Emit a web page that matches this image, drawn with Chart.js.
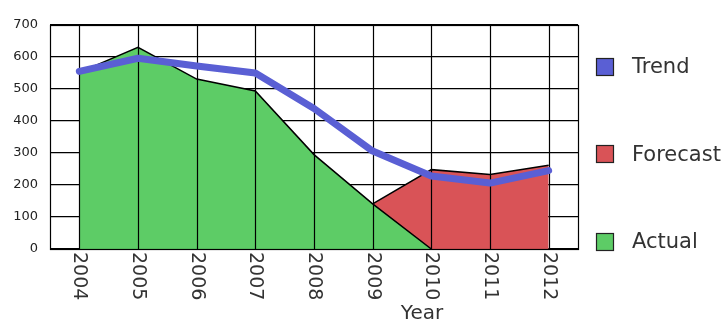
<!DOCTYPE html>
<html>
<head>
<meta charset="utf-8">
<script src="https://cdn.jsdelivr.net/npm/chart.js@4/dist/chart.umd.min.js"></script>
<style>
  html, body { margin: 0; padding: 0; background: #fff; }
  #wrap { width: 727px; height: 322px; }
</style>
</head>
<body>
<div id="wrap"><canvas id="c" width="727" height="322"></canvas></div>
<script>
// Yearly values
const years = ['2004', '2005', '2006', '2007', '2008', '2009', '2010', '2011', '2012'];
const actual = [552, 630, 531, 494, 295, 141, 0, null, null];
const forecast = [null, null, null, null, null, 141, 248, 233, 262];
const trend = [555, 596, 572, 550, 439, 306, 228, 206, 245];
const seriesNames = ['Trend', 'Forecast', 'Actual'];
const axisTitle = 'Year';

const COLORS = { Trend: '#5a5fd4', Forecast: '#d95357', Actual: '#5dcc66' };
const FONT = '"DejaVu Sans", Verdana, sans-serif';

// Vertical grid lines and frame sit above the filled areas but below the trend line;
// rotated year labels, axis title and legend are painted by hand.
const decor = {
  id: 'decor',
  beforeDatasetDraw(chart, args) {
    if (args.index !== 0) return;
    const ctx = chart.ctx, ca = chart.chartArea, xs = chart.scales.x;
    ctx.save();
    ctx.strokeStyle = '#000';
    ctx.lineWidth = 1.2;
    ctx.beginPath();
    years.forEach((_, i) => {
      const x = Math.round(xs.getPixelForTick(i)) + 0.5;
      ctx.moveTo(x, ca.top);
      ctx.lineTo(x, ca.bottom);
    });
    ctx.stroke();
    ctx.strokeRect(Math.round(ca.left) + 0.5, Math.round(ca.top) + 0.5,
                   Math.round(ca.right - ca.left), Math.round(ca.bottom - ca.top));
    ctx.restore();
  },
  afterDraw(chart) {
    const ctx = chart.ctx, ca = chart.chartArea, xs = chart.scales.x;
    ctx.save();
    // year labels, reading downwards
    ctx.fillStyle = '#333';
    ctx.font = '19px ' + FONT;
    ctx.textAlign = 'left';
    ctx.textBaseline = 'middle';
    years.forEach((y, i) => {
      ctx.save();
      ctx.translate(xs.getPixelForTick(i), ca.bottom + 3);
      ctx.rotate(Math.PI / 2);
      ctx.fillText(y, 0, 0);
      ctx.restore();
    });
    // axis title
    ctx.font = '20px ' + FONT;
    ctx.textAlign = 'center';
    ctx.textBaseline = 'alphabetic';
    ctx.fillText(axisTitle, 422, 319);
    // legend
    ctx.font = '21px ' + FONT;
    ctx.textAlign = 'left';
    ctx.textBaseline = 'middle';
    seriesNames.forEach((name, i) => {
      const cy = ca.top + 42 + i * 87.3;
      const bx = ca.right + 18;
      ctx.fillStyle = COLORS[name];
      ctx.fillRect(bx, Math.round(cy - 9), 18, 18);
      ctx.strokeStyle = '#222';
      ctx.lineWidth = 1.2;
      ctx.strokeRect(bx + 0.5, Math.round(cy - 9) + 0.5, 17, 17);
      ctx.fillStyle = '#333';
      ctx.fillText(name, ca.right + 54, cy + 1);
    });
    ctx.restore();
  }
};

new Chart(document.getElementById('c'), {
  type: 'line',
  data: {
    labels: years,
    datasets: [
      {
        label: 'Trend', data: trend, borderColor: COLORS.Trend, borderWidth: 7,
        pointRadius: 0, fill: false, tension: 0, borderJoinStyle: 'round', borderCapStyle: 'round'
      },
      {
        label: 'Actual', data: actual, borderColor: '#000', borderWidth: 1.5,
        backgroundColor: COLORS.Actual, pointRadius: 0, fill: 'origin', tension: 0
      },
      {
        label: 'Forecast', data: forecast, borderColor: '#000', borderWidth: 1.5,
        backgroundColor: COLORS.Forecast, pointRadius: 0, fill: 'origin', tension: 0
      }
    ]
  },
  options: {
    responsive: false,
    animation: false,
    layout: { padding: { top: 25, right: 149, bottom: 0, left: 0 } },
    plugins: { legend: { display: false }, tooltip: { enabled: false } },
    scales: {
      x: {
        type: 'category',
        offset: true,
        grid: { display: false },
        border: { display: false },
        ticks: { display: false },
        afterFit(s) { s.height = 73; }
      },
      y: {
        min: 0, max: 700,
        ticks: { stepSize: 100, color: '#222', font: { family: FONT, size: 13 }, padding: 12 },
        grid: { color: '#000', lineWidth: 1.2, drawTicks: false },
        border: { display: false },
        afterFit(s) { s.width = 50; }
      }
    }
  },
  plugins: [decor]
});
</script>
</body>
</html>
